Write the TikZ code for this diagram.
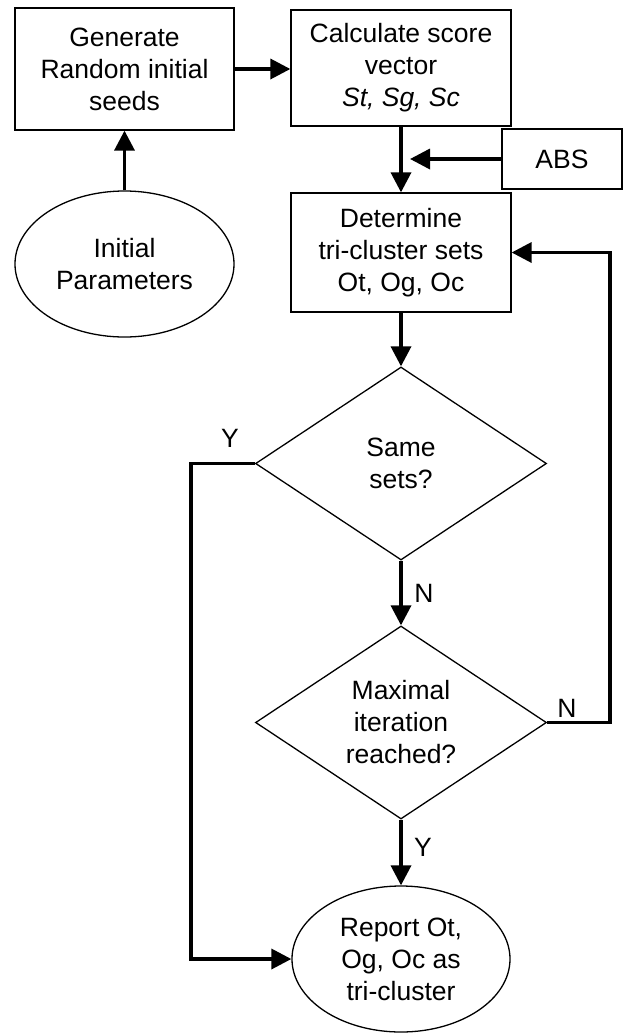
\documentclass[tikz,border=0pt]{standalone}
\usepackage{fontspec}
\setmainfont{Liberation Sans}
\usetikzlibrary{shapes.geometric,arrows.meta,calc}

\begin{document}
\begin{tikzpicture}[
		x=1pt, y=-1pt,
		line join=miter,
		txt/.style={font=\fontsize{26.5}{32}\selectfont, align=center, inner sep=0pt},
		procbox/.style={txt, draw, line width=1.3pt, rectangle},
		oval/.style={txt, draw, line width=1.3pt, ellipse, minimum width=219pt, minimum height=146pt},
		decide/.style={txt, draw, line width=1.3pt, diamond, aspect=1.5, minimum width=291pt, minimum height=193pt},
		flow/.style={line width=3.5pt, -{Triangle[length=20pt,width=20pt]}},
		tag/.style={txt}
		]
		\useasboundingbox (0,0) rectangle (623,1034);
		
		% top row
		\node[procbox, minimum width=219pt, minimum height=122pt] (gen) at (124.5,69)
			{Generate\\Random initial\\seeds};
		\node[procbox, minimum width=220pt, minimum height=116pt] (calc) at (401,68)
			{Calculate score\\vector\\\textit{St, Sg, Sc}};
		\node[oval] (init) at (124.5,264) {Initial\\Parameters};
		\node[procbox, minimum width=120pt, minimum height=60pt] (abs) at (562,159) {ABS};
		\node[procbox, minimum width=220pt, minimum height=119pt] (det) at (401,252.5)
			{Determine\\tri-cluster sets\\Ot, Og, Oc};
		
		% decisions
		\node[decide] (same) at (401,463.5) {Same\\sets?};
		\node[decide] (max) at (401,722.5) {Maximal\\iteration\\reached?};
		\node[oval, minimum width=218pt] (rep) at (401,959) {Report Ot,\\Og, Oc as\\tri-cluster};
		
		\node[tag] (ysame) at (230,438) {Y};
		\node[tag] (nsame) at (424,593) {N};
		\node[tag] (nmax) at (567,708) {N};
		\node[tag] (ymax) at (423,847) {Y};
		
		\draw[flow] (init.north) -- (gen.south);
		\draw[flow] (gen.east) -- (gen.east -| calc.west);
		\draw[flow] (calc.south) -- (det.north);
		\draw[flow] (abs.west) -- ($(abs.west -| det.north)+(9,0)$);
		\draw[flow] (det.south) -- (same.north);
		\draw[flow] (same.south) -- (max.north);
		\draw[flow] (max.south) -- (rep.north);
		\draw[flow] (same.west) -- ++(-64,0) |- (rep.west);
		\draw[flow] (max.east) -- ++(63,0) |- (det.east);
		
	\end{tikzpicture}
\end{document}
